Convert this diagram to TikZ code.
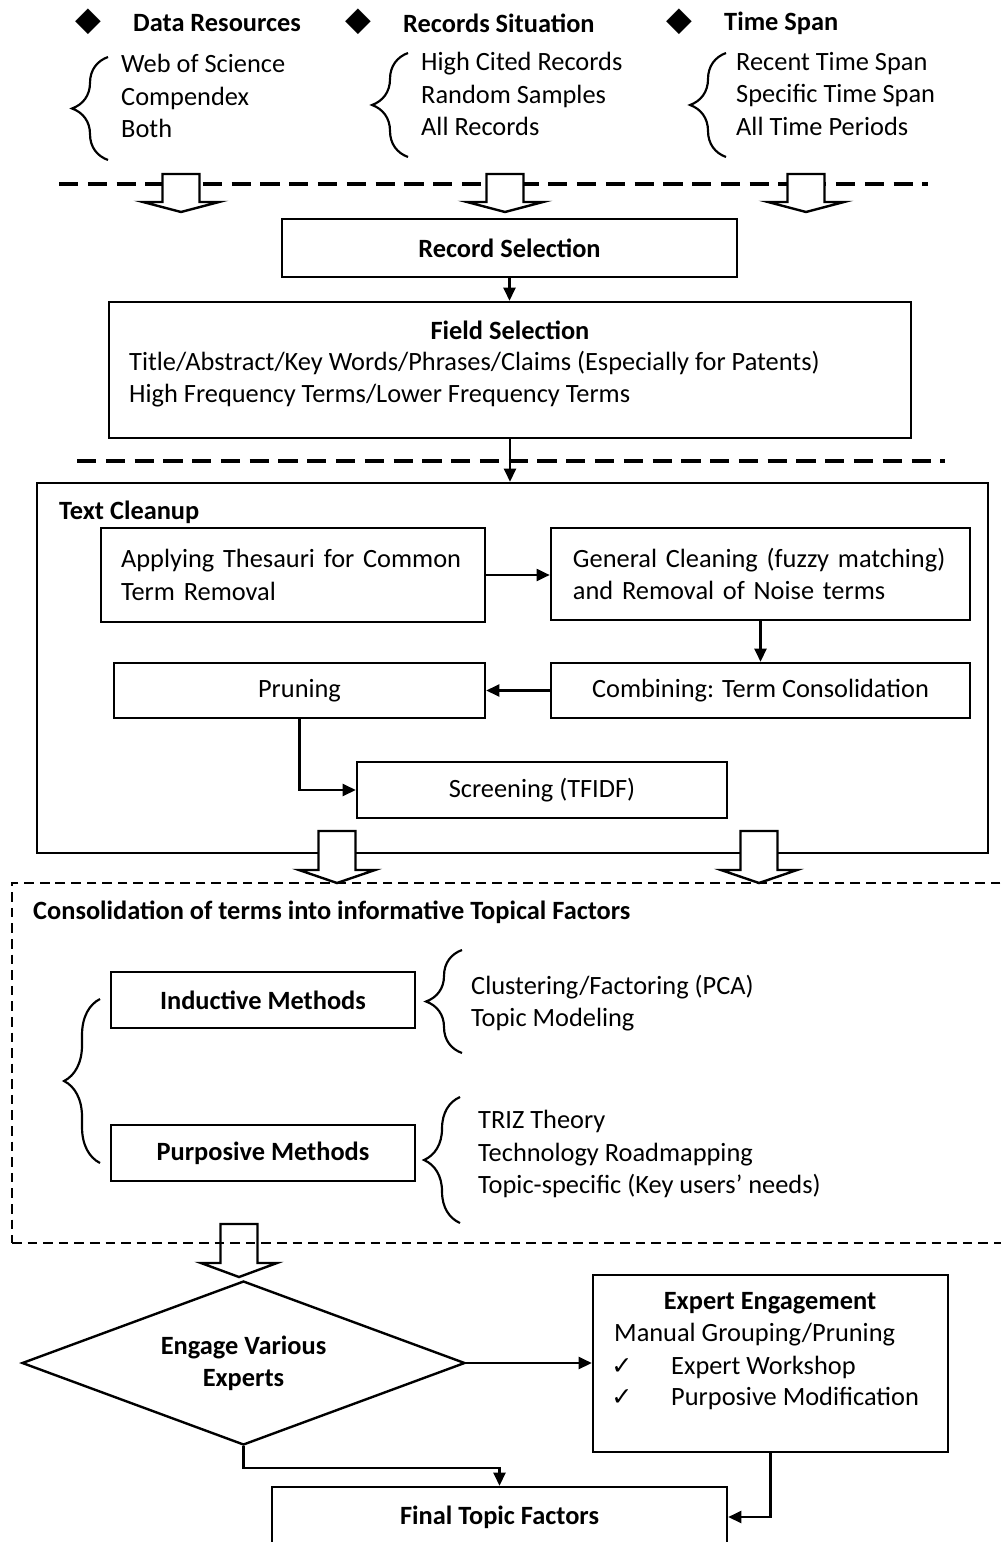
\documentclass[tikz,border=0pt]{standalone}
\usepackage{fontspec}
\setmainfont{Carlito}
\newfontfamily\dejavu{DejaVu Sans}
\usetikzlibrary{shapes.geometric, arrows.meta, decorations.pathreplacing}
\tikzset{>={Triangle[length=5.5pt,width=5pt]}}
\newlength{\pxl}
\setlength{\pxl}{0.417pt}
\tikzset{
  every node/.style={font=\fontsize{11}{13.4}\selectfont},
  hd/.style={font=\fontsize{11}{13.4}\selectfont\bfseries},
  box/.style={draw, line width=1pt, inner sep=0pt, align=center},
  txt/.style={anchor=west, inner sep=0pt, align=left},
  bul/.style={inner sep=0pt, font=\dejavu\fontsize{14}{14}\selectfont},
  chk/.style={inner sep=0pt, font=\dejavu\fontsize{10.5}{10.5}\selectfont},
  sep/.style={line width=1.3pt, dash pattern=on 8pt off 4pt},
  brc/.style={decorate, decoration={brace, amplitude=15pt}, line width=0.9pt}
}
% hollow block arrow: x, top, shoulder, tip, fill
\newcommand{\hollowdown}[5]{%
  \draw[line width=1pt, fill=#5] (#1-18.5,#2) -- (#1+18.5,#2) -- (#1+18.5,#3)
    -- (#1+38,#3) -- (#1,#4) -- (#1-38,#3) -- (#1-18.5,#3) -- cycle;}

\begin{document}
\begin{tikzpicture}[x=0.417pt, y=-0.417pt, line width=1pt]
\useasboundingbox (0,0) rectangle (1000,1542);

% selection criteria
\node[bul] (b1) at (88,22) {◆};
\node[bul] (b2) at (358,22) {◆};
\node[bul] (b3) at (679,22) {◆};
\node[txt, hd] (h1) at (132,23) {Data Resources};
\node[txt, hd] (h2) at (402,23) {Records Situation};
\node[txt, hd] (h3) at (723,23) {Time Span};
\node[txt] (l1) at (120,96) {Web of Science\\Compendex\\Both};
\node[txt] (l2) at (420,94) {High Cited Records\\Random Samples\\All Records};
\node[txt] (l3) at (735,94) {Recent Time Span\\Specific Time Span\\All Time Periods};
\draw[brc] (108,160) -- (108,57);
\draw[brc] (408,157) -- (408,53);
\draw[brc] (726,157) -- (726,53);

\draw[sep] (59,184) -- (928,184);
\hollowdown{181}{174}{202}{212}{white}
\hollowdown{505}{174}{202}{212}{white}
\hollowdown{806}{174}{202}{212}{white}

% record and field selection
\node[box, hd, minimum width=455*\pxl, minimum height=58*\pxl] (rec) at (509.5,248) {Record Selection};
\node[box, minimum width=802*\pxl, minimum height=136*\pxl] (field) at (510,370) {};
\node[hd] (fieldT) at (510,330) {Field Selection};
\node[txt] (fieldA) at (128,363) {Title/Abstract/Key Words/Phrases/Claims (Especially for Patents)};
\node[txt] (fieldB) at (128,396) {High Frequency Terms/Lower Frequency Terms};
\draw[sep] (77,461) -- (945,461);

% text cleanup
\node[box, minimum width=951*\pxl, minimum height=370*\pxl] (clean) at (512.5,668) {};
\node[txt, hd] (cleanT) at (58,512) {Text Cleanup};
\node[box, text width=143.4pt, inner xsep=8.3pt, minimum height=94*\pxl, align=left] (thes) at (293,575) {Applying Thesauri for Common\\Term Removal};
\node[box, text width=156.4pt, inner xsep=9.2pt, minimum height=92*\pxl, align=left] (gen) at (760.5,574) {General Cleaning (fuzzy matching)\\and Removal of Noise terms};
\node[box, minimum width=371*\pxl, minimum height=55*\pxl] (prun) at (299.5,690.5) {Pruning};
\node[box, minimum width=419*\pxl, minimum height=55*\pxl] (comb) at (760.5,690.5) {Combining: Term Consolidation};
\node[box, minimum width=370*\pxl, minimum height=56*\pxl] (scr) at (542,790) {Screening (TFIDF)};

\draw[->] (rec.south) -- (rec.south |- field.north);
\draw[->] (field.south) -- (field.south |- clean.north);
\draw[->] (thes.east) -- (thes.east -| gen.west);
\draw[->] (gen) -- (comb);
\draw[->] (comb) -- (prun);
\draw[->] (prun.south) |- (scr.west);

% consolidation
\node[draw, line width=0.8pt, dash pattern=on 4pt off 2.5pt, minimum width=1000*\pxl, minimum height=360*\pxl] (cons) at (512,1063) {};
\hollowdown{337}{831}{870}{883}{white}
\hollowdown{759}{831}{870}{883}{white}
\node[txt, hd] (consT) at (32,912) {Consolidation of terms into informative Topical Factors};
\node[box, hd, minimum width=304*\pxl, minimum height=56*\pxl] (ind) at (263,1000) {Inductive Methods};
\node[box, hd, minimum width=304*\pxl, minimum height=56*\pxl] (pur) at (263,1153) {Purposive Methods};
\draw[brc] (100,1163) -- (100,999);
\draw[brc] (462,1053) -- (462,950);
\draw[brc] (460,1223) -- (460,1097);
\node[txt] (indL) at (470,1003) {Clustering/Factoring (PCA)\\Topic Modeling};
\node[txt] (purL) at (477,1154) {TRIZ Theory\\Technology Roadmapping\\Topic-specific (Key users’ needs)};
\hollowdown{239}{1224}{1263}{1277}{none}

% experts
\node[draw, diamond, aspect=2.7, line width=1pt, minimum width=443*\pxl, minimum height=164*\pxl, inner sep=0pt, hd, align=center] (eng) at (243.5,1363) {Engage Various\\Experts};
\node[box, minimum width=355*\pxl, minimum height=177*\pxl] (exp) at (770.5,1363.5) {};
\node[hd] (expT) at (770,1303) {Expert Engagement};
\node[txt] (expA) at (613,1335) {Manual Grouping/Pruning};
\node[chk] (c1) at (622,1367) {✓};
\node[txt] (expB) at (670,1367) {Expert Workshop};
\node[chk] (c2) at (622,1398) {✓};
\node[txt] (expC) at (670,1398) {Purposive Modification};
\node[box, hd, minimum width=455*\pxl, minimum height=60*\pxl] (fin) at (499.5,1517) {Final Topic Factors};

\draw[->] (eng.east) -- (eng.east -| exp.west);
\draw[->] (eng.south) -- ++(0,22) -| (fin.north);
\draw[->] (exp.south) |- (fin.east);
\end{tikzpicture}
\end{document}
